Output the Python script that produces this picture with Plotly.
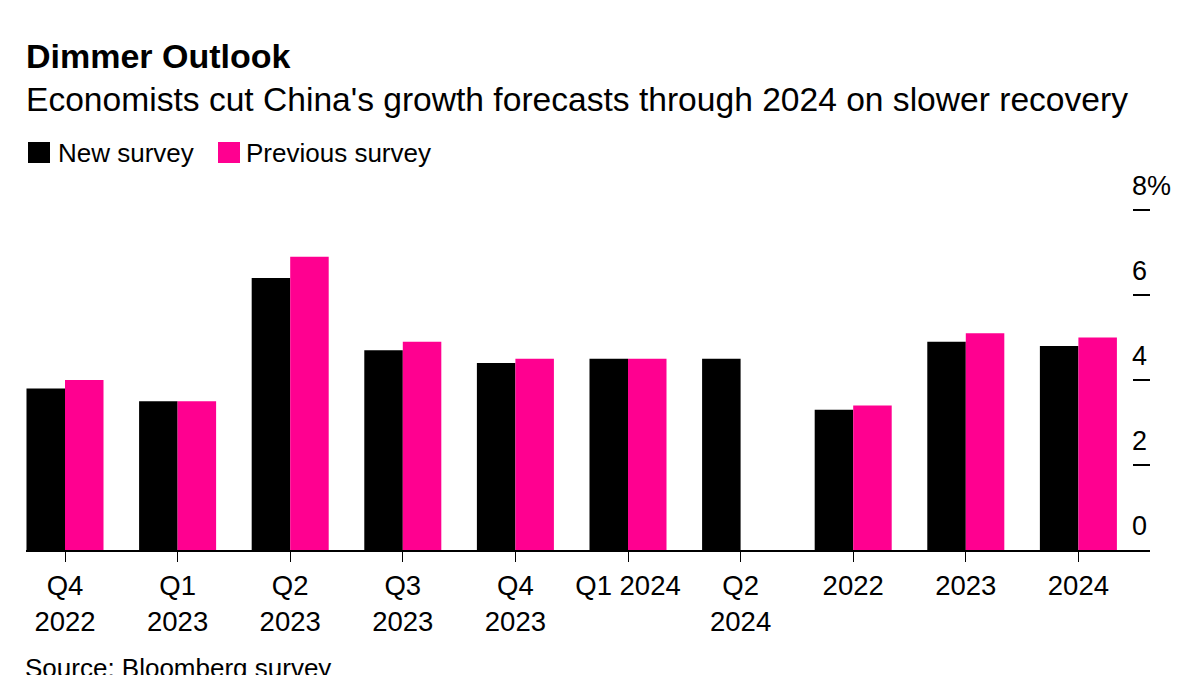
import plotly.graph_objects as go

categories = ["Q4<br>2022", "Q1<br>2023", "Q2<br>2023", "Q3<br>2023", "Q4<br>2023",
              "Q1 2024", "Q2<br>2024", "2022", "2023", "2024"]
new_survey = [3.8, 3.5, 6.4, 4.7, 4.4, 4.5, 4.5, 3.3, 4.9, 4.8]
previous_survey = [4.0, 3.5, 6.9, 4.9, 4.5, 4.5, None, 3.4, 5.1, 5.0]
y_tick_vals = [0, 2, 4, 6, 8]
y_tick_text = ["0", "2", "4", "6", "8%"]

BLACK = "#000000"
PINK = "#ff0090"
FONT = "Arial, Liberation Sans, sans-serif"

# plot area in pixels
L, R, T, B = 26, 1150, 200, 550
W, H = 1200, 675


def xp(px):
    return (px - L) / (R - L)


def yp(py):
    return (B - py) / (B - T)


x_idx = list(range(len(categories)))

fig = go.Figure()
fig.add_trace(go.Bar(x=x_idx, y=new_survey, name="New survey",
                     marker=dict(color=BLACK, line=dict(width=0)), showlegend=False))
fig.add_trace(go.Bar(x=x_idx, y=previous_survey, name="Previous survey",
                     marker=dict(color=PINK, line=dict(width=0)), showlegend=False))

unit = 112.6
x0 = -(65 - L) / unit
x1 = x0 + (R - L) / unit
y_top = (B - T) / 42.5

fig.update_layout(
    width=W, height=H,
    margin=dict(l=L, r=W - R, t=T, b=H - B),
    paper_bgcolor="white", plot_bgcolor="white",
    barmode="group", bargap=0.316, bargroupgap=0,
    font=dict(family=FONT, color="#000000", size=26),
    xaxis=dict(
        range=[x0, x1], tickmode="array", tickvals=x_idx, ticktext=categories,
        showline=True, linecolor="#000000", linewidth=1.5,
        ticks="outside", ticklen=10, tickcolor="#000000", tickwidth=1,
        showgrid=False, zeroline=False, tickfont=dict(size=27.5, family=FONT),
        fixedrange=True,
    ),
    yaxis=dict(
        range=[0, y_top], side="right", tickmode="array", tickvals=y_tick_vals,
        ticktext=y_tick_text, ticks="inside", ticklen=17, tickwidth=1.5,
        tickcolor="#000000", showgrid=False, zeroline=False, showline=False,
        tickfont=dict(size=27, family=FONT),
        ticklabelstandoff=-19, ticklabelshift=-24,
        fixedrange=True,
    ),
)

annotations = [
    dict(text="<b>Dimmer Outlook</b>", x=xp(24), y=yp(56), xanchor="left", yanchor="middle",
         font=dict(size=34, family=FONT, color="#000000")),
    dict(text="Economists cut China's growth forecasts through 2024 on slower recovery",
         x=xp(24), y=yp(99), xanchor="left", yanchor="middle",
         font=dict(size=33.6, family=FONT, color="#000000")),
    dict(text="New survey", x=xp(56), y=yp(153), xanchor="left", yanchor="middle",
         font=dict(size=26, family=FONT, color="#000000")),
    dict(text="Previous survey", x=xp(244), y=yp(153), xanchor="left", yanchor="middle",
         font=dict(size=26, family=FONT, color="#000000")),
    dict(text="Source: Bloomberg survey", x=xp(23), y=yp(651), xanchor="left", yanchor="top",
         font=dict(size=26, family=FONT, color="#000000")),
]
for a in annotations:
    a.update(xref="paper", yref="paper", showarrow=False)
fig.update_layout(annotations=annotations)

shapes = [
    dict(type="rect", xref="paper", yref="paper", x0=xp(28), x1=xp(50), y0=yp(163), y1=yp(142),
         fillcolor=BLACK, line=dict(width=0)),
    dict(type="rect", xref="paper", yref="paper", x0=xp(218), x1=xp(240), y0=yp(163), y1=yp(142),
         fillcolor=PINK, line=dict(width=0)),
]
fig.update_layout(shapes=shapes)

fig.write_html("out.html")
